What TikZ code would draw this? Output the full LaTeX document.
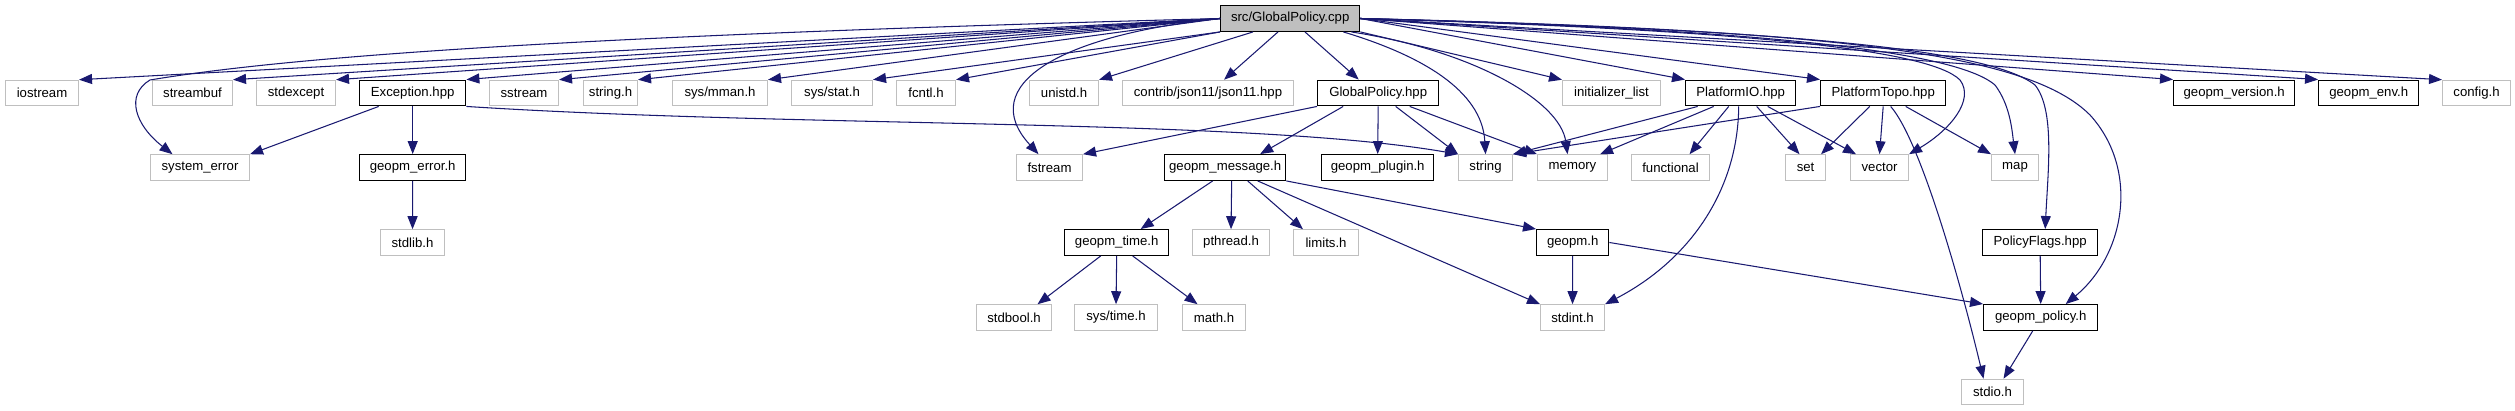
\documentclass[tikz,border=0pt]{standalone}
\usepackage{fontspec}
\setmainfont{Liberation Sans}
\usetikzlibrary{arrows.meta}

\definecolor{edgeblue}{HTML}{191970}
\definecolor{boxgray}{HTML}{BFBFBF}

\begin{document}
\begin{tikzpicture}[
        x=0.02cm, y=-0.02cm,
        >={Triangle[length=2.6mm, width=2mm]},
        sysfile/.style={draw=boxgray, line width=0.6pt, fill=white, anchor=west, minimum height=5.1mm, inner sep=0pt, font=\fontsize{7.5}{9}\selectfont},
        srcfile/.style={sysfile, draw=black, line width=0.8pt},
        rootfile/.style={srcfile, fill=boxgray},
        bw/.style={minimum width=#1*0.2mm},
        dep/.style={->, draw=edgeblue, fill=none, line width=0.6pt}
    ]
        \useasboundingbox (0,0) rectangle (2515,411);

        % row 0
        \node[rootfile, bw=139] (root) at (1220,18.5) {src/GlobalPolicy.cpp};

        % row 1
        \node[sysfile, bw=73]  (iostream)  at (5,93)    {iostream};
        \node[sysfile, bw=80]  (streambuf) at (152,93)  {streambuf};
        \node[sysfile, bw=79]  (stdexcept) at (256,93)  {stdexcept};
        \node[srcfile, bw=106] (exception) at (359,93)  {Exception.hpp};
        \node[sysfile, bw=69]  (sstream)   at (489,93)  {sstream};
        \node[sysfile, bw=54]  (stringh)   at (583,93)  {string.h};
        \node[sysfile, bw=95]  (sysmman)   at (672,93)  {sys/mman.h};
        \node[sysfile, bw=81]  (sysstat)   at (791,93)  {sys/stat.h};
        \node[sysfile, bw=59]  (fcntl)     at (896,93)  {fcntl.h};
        \node[sysfile, bw=69]  (unistd)    at (1029,93) {unistd.h};
        \node[sysfile, bw=171] (json)      at (1122,93) {contrib/json11/json11.hpp};
        \node[srcfile, bw=121] (gpolhpp)   at (1317,93) {GlobalPolicy.hpp};
        \node[sysfile, bw=98]  (initlist)  at (1562,93) {initializer\_list};
        \node[srcfile, bw=110] (pio)       at (1685,93) {PlatformIO.hpp};
        \node[srcfile, bw=125] (ptopo)     at (1820,93) {PlatformTopo.hpp};
        \node[srcfile, bw=121] (gversion)  at (2173,93) {geopm\_version.h};
        \node[srcfile, bw=100] (genv)      at (2318,93) {geopm\_env.h};
        \node[sysfile, bw=68]  (config)    at (2442,93) {config.h};

        % row 2
        \node[sysfile, bw=99]  (syserr)     at (150,167.5)  {system\_error};
        \node[srcfile, bw=106] (gerror)     at (359,167.5)  {geopm\_error.h};
        \node[sysfile, bw=66]  (fstream)    at (1016,167.5) {fstream};
        \node[srcfile, bw=121] (gmsg)       at (1164,167.5) {geopm\_message.h};
        \node[srcfile, bw=112] (gplugin)    at (1321,167.5) {geopm\_plugin.h};
        \node[sysfile, bw=54]  (string)     at (1458,167.5) {string};
        \node[sysfile, bw=70]  (memory)     at (1537,167.5) {memory};
        \node[sysfile, bw=78]  (functional) at (1631,167.5) {functional};
        \node[sysfile, bw=40]  (set)        at (1785,167.5) {set};
        \node[sysfile, bw=58]  (vector)     at (1850,167.5) {vector};
        \node[sysfile, bw=47]  (map)        at (1991,167.5) {map};

        % row 3
        \node[sysfile, bw=64]  (stdlib)  at (380,242.5)  {stdlib.h};
        \node[srcfile, bw=104] (gtime)   at (1064,242.5) {geopm\_time.h};
        \node[sysfile, bw=77]  (pthread) at (1192,242.5) {pthread.h};
        \node[sysfile, bw=65]  (limits)  at (1293,242.5) {limits.h};
        \node[srcfile, bw=72]  (geopm)   at (1536,242.5) {geopm.h};
        \node[srcfile, bw=115] (pflags)  at (1982,242.5) {PolicyFlags.hpp};

        % row 4
        \node[sysfile, bw=75]  (stdbool) at (976,317.5)  {stdbool.h};
        \node[sysfile, bw=83]  (systime) at (1074,317.5) {sys/time.h};
        \node[sysfile, bw=63]  (math)    at (1182,317.5) {math.h};
        \node[sysfile, bw=64]  (stdint)  at (1540,317.5) {stdint.h};
        \node[srcfile, bw=114] (gpolicy) at (1983,317.5) {geopm\_policy.h};

        % row 5
        \node[sysfile, bw=62] (stdio) at (1961,392) {stdio.h};

        % includes of the root file, to the left
        \draw[dep] (root.west) -- (iostream.north east);
        \draw[dep] (root.west) -- (streambuf.north east);
        \draw[dep] (root.west) -- (stdexcept.north east);
        \draw[dep] (root.west) -- (exception.north east);
        \draw[dep] (root.west) -- (sstream.north east);
        \draw[dep] (root.west) -- (stringh.north east);
        \draw[dep] (root.west) -- (sysmman.north east);
        \draw[dep] (root.south west) -- (sysstat.north east);
        \draw[dep] (root.south west) -- (fcntl.north east);
        \draw[dep] ([xshift=6.6mm]root.south west) -- (unistd.north east);
        \draw[dep] ([xshift=11.6mm]root.south west) -- ([xshift=3.2mm]json.north);
        \draw[dep] (root.west) .. controls (600,35) and (300,55) .. (150,80)
              .. controls (125,95) and (135,125) .. ([xshift=-5.5mm]syserr.north);
        \draw[dep] (root.west) .. controls (1060,35) and (975,85) .. ([xshift=-2.2mm]fstream.north);

        % includes of the root file, to the right
        \draw[dep] ([xshift=17mm]root.south west) -- ([xshift=-3.9mm]gpolhpp.north);
        \draw[dep] ([xshift=-3.4mm]root.south east) .. controls (1420,55) and (1482,90) .. (string.north);
        \draw[dep] ([xshift=-1.8mm]root.south east) .. controls (1470,50) and (1560,100) .. ([xshift=-1mm]memory.north);
        \draw[dep] (root.south east) -- (initlist.north west);
        \draw[dep] (root.east) -- (pio.north west);
        \draw[dep] (root.east) -- (ptopo.north west);
        \draw[dep] (root.east) -- (gversion.north west);
        \draw[dep] (root.east) -- (genv.north west);
        \draw[dep] (root.east) -- (config.north west);
        \draw[dep] (root.east) .. controls (1750,30) and (1930,50) .. (1960,80)
              .. controls (1975,100) and (1950,130) .. (vector.north east);
        \draw[dep] (root.east) .. controls (1800,30) and (1960,55) .. (1995,85)
              .. controls (2010,105) and (2012,130) .. (map.north);
        \draw[dep] (root.east) .. controls (1800,30) and (1990,50) .. (2035,85)
              .. controls (2055,110) and (2048,170) .. ([xshift=1mm]pflags.north);
        \draw[dep] (root.east) .. controls (1850,30) and (2030,55) .. (2090,115)
              .. controls (2140,170) and (2125,255) .. ([xshift=5mm]gpolicy.north);

        % Exception.hpp
        \draw[dep] ([xshift=-6.8mm]exception.south) -- (syserr.north east);
        \draw[dep] (exception.south) -- (gerror.north);
        \draw[dep] (exception.south east) .. controls (800,128) and (1250,118) .. (string.north west);
        \draw[dep] (gerror.south) -- (stdlib.north);

        % GlobalPolicy.hpp
        \draw[dep] (gpolhpp.south west) -- (fstream.north east);
        \draw[dep] ([xshift=-7mm]gpolhpp.south) -- ([xshift=7mm]gmsg.north);
        \draw[dep] (gpolhpp.south) -- (gplugin.north);
        \draw[dep] ([xshift=3.5mm]gpolhpp.south) -- (string.north west);
        \draw[dep] ([xshift=6.3mm]gpolhpp.south) -- (memory.north west);

        % geopm_message.h and below
        \draw[dep] ([xshift=-2.5mm]gmsg.south) -- ([xshift=4.8mm]gtime.north);
        \draw[dep] ([xshift=1.3mm]gmsg.south) -- (pthread.north);
        \draw[dep] ([xshift=4.5mm]gmsg.south) -- ([xshift=2mm]limits.north west);
        \draw[dep] ([xshift=6.5mm]gmsg.south) -- (stdint.north west);
        \draw[dep] (gmsg.south east) -- (geopm.north west);
        \draw[dep] ([xshift=-3.2mm]gtime.south) -- ([xshift=4.7mm]stdbool.north);
        \draw[dep] (gtime.south) -- (systime.north);
        \draw[dep] ([xshift=3.2mm]gtime.south) -- ([xshift=-3.3mm]math.north);
        \draw[dep] (geopm.south) -- (stdint.north);
        \draw[dep] (geopm.east) -- (gpolicy.north west);

        % PlatformIO.hpp
        \draw[dep] ([xshift=-8.6mm]pio.south) -- (string.north east);
        \draw[dep] ([xshift=-5.4mm]pio.south) -- ([xshift=-1.6mm]memory.north east);
        \draw[dep] ([xshift=-2.4mm]pio.south) -- ([xshift=3.8mm]functional.north);
        \draw[dep] ([xshift=3.2mm]pio.south) -- ([xshift=-1.2mm]set.north);
        \draw[dep] ([xshift=5.4mm]pio.south) -- ([xshift=1.2mm]vector.north west);
        \draw[dep] ([xshift=-0.4mm]pio.south) .. controls (1738,190) and (1690,260) .. (stdint.north east);

        % PlatformTopo.hpp
        \draw[dep] (ptopo.south west) -- (string.north east);
        \draw[dep] ([xshift=-2.7mm]ptopo.south) -- ([xshift=-1mm]set.north east);
        \draw[dep] (ptopo.south) -- (vector.north);
        \draw[dep] ([xshift=4.5mm]ptopo.south) -- (map.north west);
        \draw[dep] ([xshift=1.5mm]ptopo.south) .. controls (1920,140) and (1960,280) .. ([xshift=-1.8mm]stdio.north);

        % geopm_policy.h
        \draw[dep] (pflags.south) -- (gpolicy.north);
        \draw[dep] ([xshift=-1.6mm]gpolicy.south) -- ([xshift=2.2mm]stdio.north);
    \end{tikzpicture}
\end{document}
